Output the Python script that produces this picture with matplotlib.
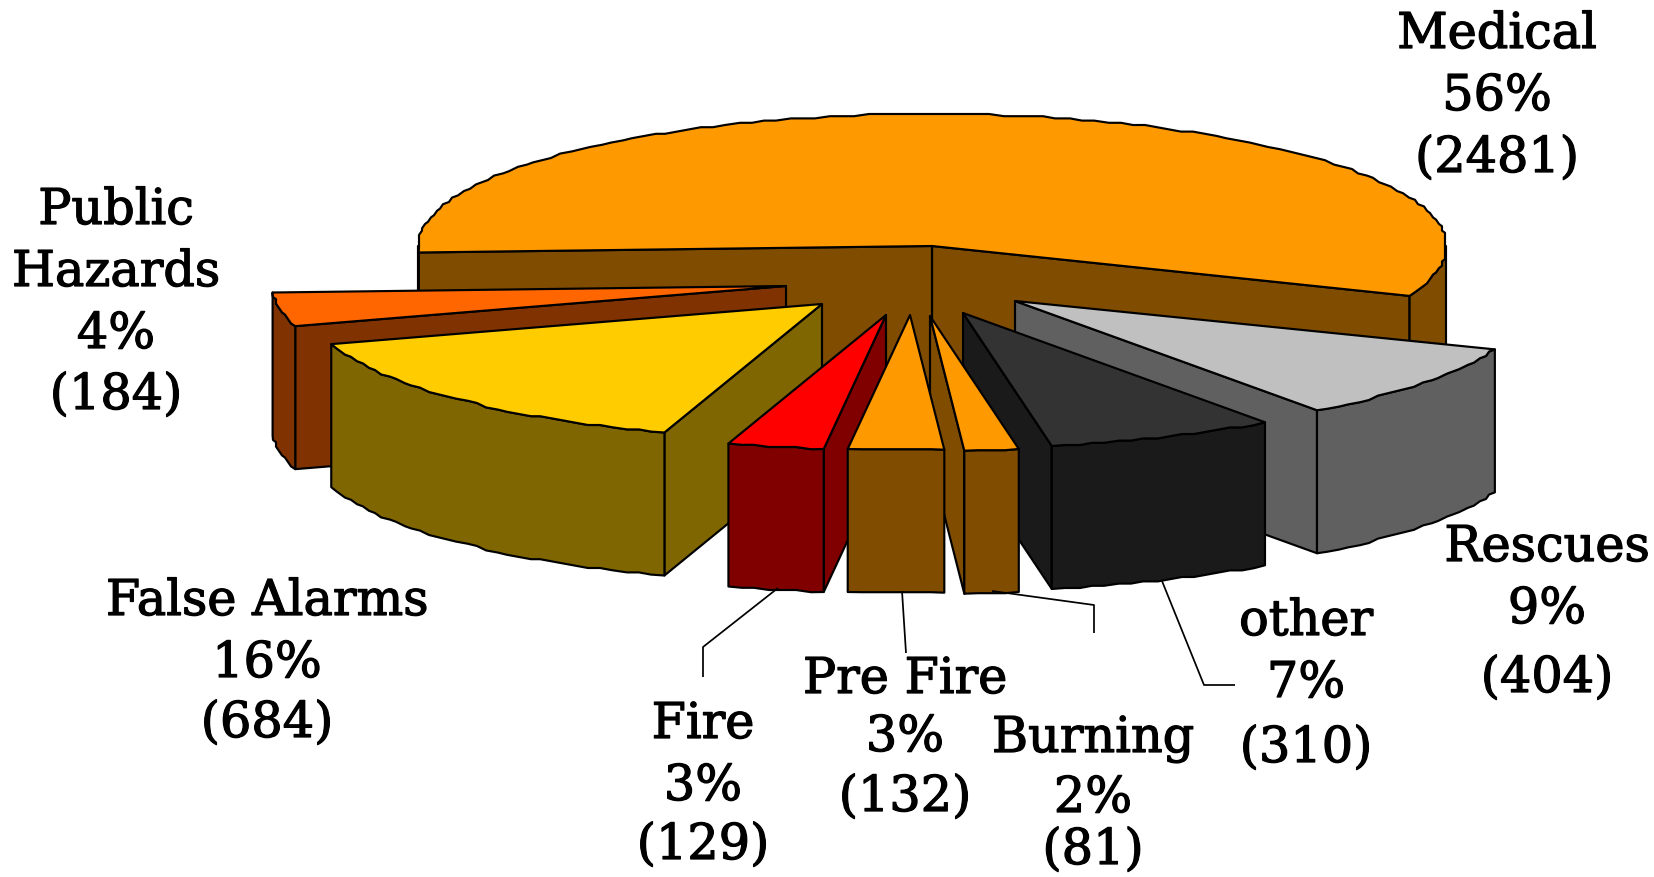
import numpy as np
import matplotlib
matplotlib.use("Agg")
import matplotlib.pyplot as plt
from matplotlib.patches import Polygon
import matplotlib.patheffects as pe

# ---- data -------------------------------------------------------------
categories = ["Medical", "Public Hazards", "False Alarms", "Fire",
              "Pre Fire", "Burning", "other", "Rescues"]
counts = [2481, 184, 684, 129, 132, 81, 310, 404]
percents = [56, 4, 16, 3, 3, 2, 7, 9]

# ---- styles -----------------------------------------------------------
top_colors = ["#FF9900", "#FF6600", "#FFCC00", "#FF0000",
              "#FF9900", "#FF9900", "#333333", "#C0C0C0"]
side_colors = ["#804C00", "#803300", "#806600", "#800000",
               "#804C00", "#804C00", "#1A1A1A", "#606060"]

# ---- layout (pixels of the 1654x878 canvas) ---------------------------
RX, RY_BACK, RY_FRONT, DEPTH = 514, 132, 135, 143
START_ANGLE = -21.0
apex = [(932, 247), (786, 287), (822, 305), (886, 316),
        (910, 316), (930, 317), (963, 314), (1015, 302)]
boundary_nudge = [-0.7, 1.0, 0.5, -0.55, -0.2, -0.2, -0.7, 0, 0]
draw_order = [0, 1, 7, 2, 6, 5, 3, 4]
label_x = [1497, 116, 267, 703, 905, 1093, 1306, 1547]
label_lines = [["Medical"], ["Public", "Hazards"], ["False Alarms"], ["Fire"],
               ["Pre Fire"], ["Burning"], ["other"], ["Rescues"]]
label_base = [[49, 111, 173], [225, 287, 349, 410], [616, 678, 738],
              [739, 801, 860], [694, 752, 812], [753, 813, 865],
              [636, 698, 763], [562, 624, 693]]
leaders = [[(778, 589), (703, 648), (703, 678)],
           [(902, 592), (906, 654)],
           [(992, 592), (1094, 606), (1094, 634)],
           [(1162, 582), (1204, 686), (1235, 686)]]

fig = plt.figure(figsize=(16.54, 8.78), dpi=100)
ax = fig.add_axes([0, 0, 1, 1])
ax.set_xlim(0, 1654)
ax.set_ylim(878, 0)
ax.axis("off")

EDGE = dict(edgecolor="black", linewidth=1.55, joinstyle="round")


def arc(cx, cy, a0, a1):
    """Outer rim, slightly stepped like the low-resolution original."""
    n = max(2, int(abs(a1 - a0) / 1.5) + 1)
    th = np.radians(np.linspace(a0, a1, n))
    dx = RX * np.cos(th)
    s = np.sin(th)
    dy = -np.where(s > 0, RY_BACK, RY_FRONT) * s
    qx = np.round(dx / 3) * 3
    qy = np.round(dy / 2.2) * 2.2
    qx[[0, -1]] = dx[[0, -1]]
    qy[[0, -1]] = dy[[0, -1]]
    return np.column_stack([cx + qx, cy + qy])


def poly(points, color, z):
    ax.add_patch(Polygon(points, closed=True, facecolor=color, zorder=z, **EDGE))


total = sum(counts)
spans = [c / total * 360 for c in counts]
edges = [START_ANGLE + sum(spans[:i]) + boundary_nudge[i] for i in range(len(spans) + 1)]

z = 1
for i in draw_order:
    a0, a1 = edges[i], edges[i + 1]
    cx, cy = apex[i]
    rim = arc(cx, cy, a0, a1)
    down = np.array([0, DEPTH])
    c = np.array([cx, cy], float)
    side, top = side_colors[i], top_colors[i]
    # radial faces
    if np.cos(np.radians(a0)) > 0:
        poly([c, rim[0], rim[0] + down, c + down], side, z); z += 1
    if np.cos(np.radians(a1)) < 0:
        poly([c, rim[-1], rim[-1] + down, c + down], side, z); z += 1
    # outer wall: only the part of the rim facing the viewer
    for lo, hi in [(-180, 0), (180, 360)]:
        b0, b1 = max(a0, lo), min(a1, hi)
        if b1 > b0:
            w = arc(cx, cy, b0, b1)
            poly(np.vstack([w, (w + down)[::-1]]), side, z); z += 1
    # top face
    poly(np.vstack([c, rim]), top, z); z += 1

for pts in leaders:
    xs, ys = zip(*pts)
    ax.plot(xs, ys, color="black", lw=1.25, zorder=z, solid_capstyle="butt")

stroke = [pe.withStroke(linewidth=0.9, foreground="black")]
for i, name_lines in enumerate(label_lines):
    lines = name_lines + [f"{percents[i]}%", f"({counts[i]})"]
    for txt, y in zip(lines, label_base[i]):
        ax.text(label_x[i], y, txt, ha="center", va="baseline",
                family="DejaVu Serif", fontsize=35.5, color="black", zorder=z + 1,
                path_effects=stroke)

fig.savefig("out.png", dpi=100, facecolor="white")
